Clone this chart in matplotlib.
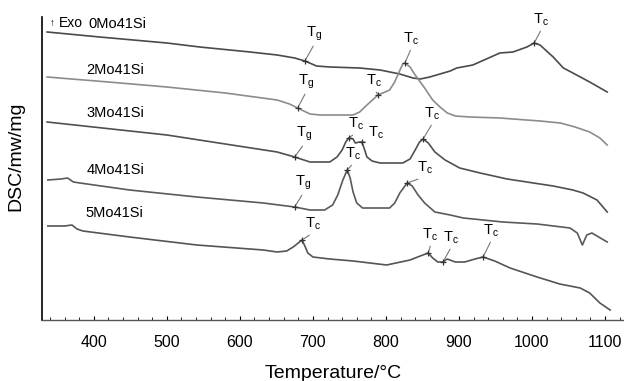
import numpy as np
import matplotlib
matplotlib.use("Agg")
import matplotlib.pyplot as plt
from matplotlib.ticker import MultipleLocator

plt.rcParams["font.family"] = ["Liberation Sans", "DejaVu Sans"]
plt.rcParams["mathtext.fontset"] = "custom"
plt.rcParams["mathtext.rm"] = "Liberation Sans"
plt.rcParams["mathtext.it"] = "Liberation Sans"

# DSC traces (temperature in degC, signal in arbitrary offset units)
names = ["0Mo41Si", "2Mo41Si", "3Mo41Si", "4Mo41Si", "5Mo41Si"]

t0 = [336, 408, 500, 545, 614, 651, 675, 689, 705, 723, 764, 792, 819, 837, 847,
      860, 888, 897, 919, 956, 974, 993, 1003, 1011, 1029, 1043, 1056, 1079, 1103]
s0 = [288, 283, 277, 273, 268, 265, 262, 259, 254, 253, 252, 250, 246, 242, 241,
      243, 249, 252, 255, 267, 268, 273, 277, 275, 263, 252, 247, 238, 228]

t1 = [336, 420, 500, 580, 651, 668, 679, 696, 710, 740, 755, 764, 774, 789, 799, 805,
      812, 818, 823, 826, 833, 840, 853, 864, 874, 884, 895, 915, 956, 1011, 1039,
      1059, 1079, 1093, 1103]
s1 = [243, 238, 233, 227, 220, 216, 212, 206, 205, 205, 205, 208, 215, 225, 228, 230,
      238, 248, 256, 257, 253, 245, 232, 220, 213, 207, 204, 203, 202, 199, 197,
      193, 188, 182, 175]

t2 = [336, 500, 651, 675, 696, 723, 733, 740, 745, 749, 755, 758, 764, 767, 770, 774,
      781, 792, 823, 833, 840, 846, 851, 858, 867, 881, 901, 929, 966, 1029, 1056,
      1070, 1089, 1103]
s2 = [198, 185, 168, 163, 158, 158, 163, 170, 178, 182, 181, 177, 178, 178, 172, 163,
      159, 157, 157, 161, 170, 178, 181, 177, 168, 160, 152, 147, 141, 134, 130,
      127, 120, 108]

t3 = [337, 355, 364, 372, 381, 449, 541, 632, 675, 696, 716, 727, 734, 741, 747, 751,
      755, 760, 768, 805, 812, 819, 829, 836, 844, 853, 867, 888, 906, 960, 1007,
      1052, 1062, 1069, 1075, 1082, 1103]
s3 = [140, 141, 142, 138, 137, 130, 123, 117, 113, 110, 110, 115, 125, 140, 150, 142,
      128, 117, 112, 112, 117, 127, 137, 134, 125, 117, 108, 105, 102, 98, 96,
      92, 87, 75, 85, 87, 78]

t4 = [337, 360, 370, 377, 385, 449, 541, 632, 651, 664, 673, 685, 689, 693, 700, 723,
      755, 801, 833, 847, 858, 864, 871, 878, 884, 895, 908, 922, 933, 949, 970,
      1007, 1038, 1066, 1079, 1093, 1107]
s4 = [94, 94, 95, 91, 89, 83, 75, 70, 68, 69, 73, 80, 74, 67, 63, 61,
      59, 55, 60, 64, 67, 62, 58, 58, 61, 58, 58, 61, 63, 59, 52,
      43, 36, 32, 27, 17, 10]

temps = [t0, t1, t2, t3, t4]
signals = [s0, s1, s2, s3, s4]

# marked transitions: (curve index, temperature, kind)
marks = [
    (0, 689, "g"), (0, 1003, "c"),
    (1, 679, "g"), (1, 789, "c"), (1, 826, "c"),
    (2, 675, "g"), (2, 749, "c"), (2, 767, "c"), (2, 851, "c"),
    (3, 675, "g"), (3, 747, "c"), (3, 829, "c"),
    (4, 685, "c"), (4, 858, "c"), (4, 878, "c"), (4, 933, "c"),
]

# layout: label offsets (pixels) from each marker, curve name positions
mark_offsets = [
    (1, 24), (-1, 19),
    (0, 23), (-12, 10), (-2, 20),
    (1, 20), (-1, 10), (6, 5), (1, 21),
    (0, 21), (-2, 12), (10, 11),
    (3, 12), (-6, 14), (0, 20), (0, 22),
]
name_pos = [(392, 296), (389, 250), (390, 207), (390, 150), (389, 107)]
colors = ["#4a4a4a", "#8c8c8c", "#505050", "#5a5a5a", "#555555"]

fig = plt.figure(figsize=(6.24, 3.81), dpi=100)
ax = fig.add_axes([42 / 624, 61 / 381, 582 / 624, 303 / 381])

for t, s, c in zip(temps, signals, colors):
    ax.plot(t, s, color=c, lw=1.2, solid_joinstyle="round")

for (i, tm, kind), (dx, dy) in zip(marks, mark_offsets):
    ym = np.interp(tm, temps[i], signals[i])
    ax.plot([tm], [ym], marker="+", ms=5, mew=0.9, color="#333333", zorder=5)
    ax.annotate(
        r"$\mathrm{T_%s}$" % kind,
        xy=(tm, ym),
        xytext=(dx, dy),
        textcoords="offset pixels",
        ha="left",
        va="baseline",
        fontsize=10.5,
        color="black",
        arrowprops=dict(arrowstyle="-", color="#777777", lw=0.8,
                        shrinkA=0, shrinkB=0, relpos=(0.55, 0.0)),
    )

for n, (x, y) in zip(names, name_pos):
    ax.text(x, y, n, fontsize=10.5, ha="left", va="center")

ax.text(340, 297, "↑", fontsize=7, ha="left", va="center")
ax.text(352, 297, "Exo", fontsize=10, ha="left", va="center")

ax.set_xlim(329, 1126)
ax.set_ylim(0, 303)
ax.xaxis.set_major_locator(MultipleLocator(100))
ax.xaxis.set_minor_locator(MultipleLocator(20))
ax.tick_params(axis="x", which="major", direction="in", length=3, width=0.8,
               labelsize=11.5, pad=10.5)
ax.tick_params(axis="x", which="minor", direction="in", length=2, width=0.6)
ax.set_yticks([])
for side in ("top", "right"):
    ax.spines[side].set_visible(False)
ax.spines["left"].set_linewidth(1.2)
ax.spines["bottom"].set_linewidth(1.0)
ax.spines["bottom"].set_color("#555555")

ax.set_xlabel("Temperature/°C", fontsize=14, labelpad=11)
ax.set_ylabel("DSC/mw/mg", fontsize=14)
ax.yaxis.set_label_coords(-0.031, 0.541)

fig.savefig("out.png", dpi=100)
